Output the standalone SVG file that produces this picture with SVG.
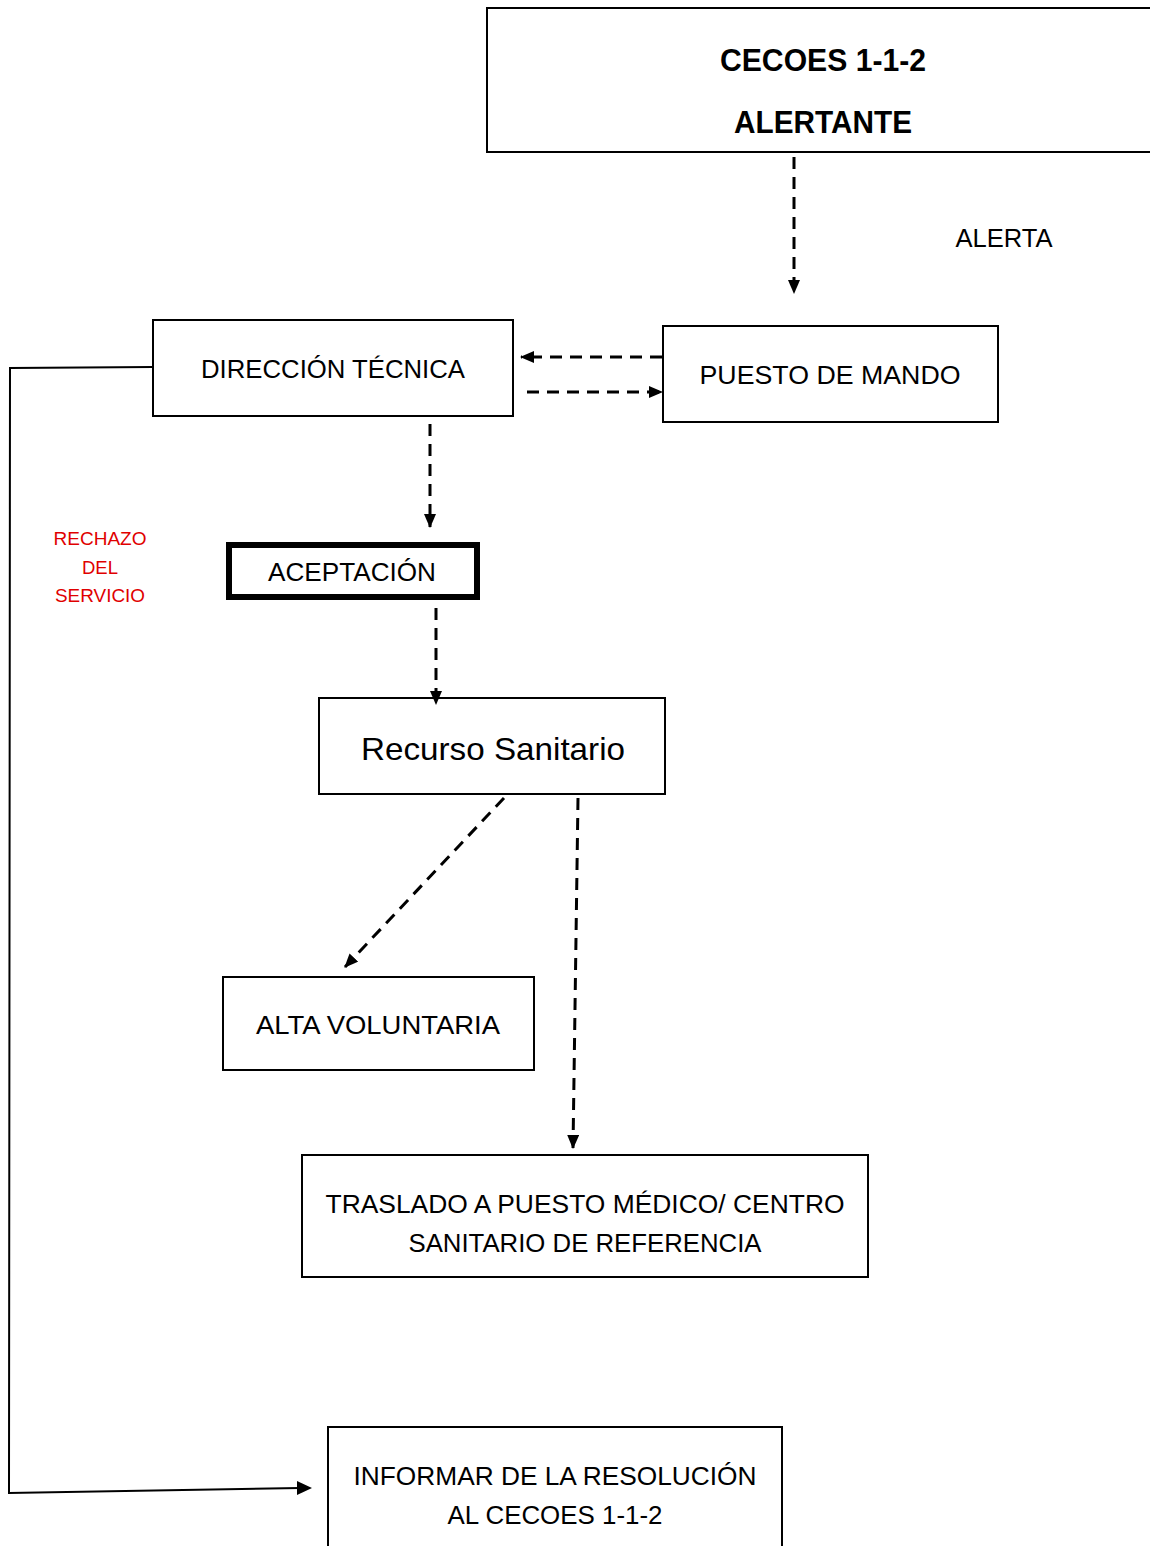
<svg xmlns="http://www.w3.org/2000/svg" width="1150" height="1546" viewBox="0 0 1150 1546">
<defs>
<marker id="ah" viewBox="0 0 14 12" refX="13" refY="6" markerWidth="14" markerHeight="12" markerUnits="userSpaceOnUse" orient="auto">
<path d="M0,0 L14,6 L0,12 Z" fill="#000"/>
</marker>
</defs>
<style>
.box{fill:#fff;stroke:#000;stroke-width:2}
.t{font-family:"Liberation Sans",Arial,sans-serif;font-size:26px;fill:#000;text-anchor:middle}
.b{font-weight:bold;font-size:32px}
.dash{fill:none;stroke:#000;stroke-width:3;stroke-dasharray:12 8;marker-end:url(#ah)}
.solid{fill:none;stroke:#000;stroke-width:2}
.red{font-family:"Liberation Sans",Arial,sans-serif;font-size:19px;fill:#e00000;text-anchor:middle}
</style>
<rect width="1150" height="1546" fill="#fff"/>
<g id="cecoes">
<path class="box" d="M1152,8 H487 V152 H1152"/>
<text class="t b" x="823" y="71" textLength="206" lengthAdjust="spacingAndGlyphs">CECOES 1-1-2</text>
<text class="t b" x="823" y="133" textLength="178" lengthAdjust="spacingAndGlyphs">ALERTANTE</text>
</g>
<g id="alerta-label">
<text class="t" x="1004" y="247" textLength="97" lengthAdjust="spacingAndGlyphs">ALERTA</text>
</g>
<g id="direccion">
<rect class="box" x="153" y="320" width="360" height="96"/>
<text class="t" x="333" y="378" textLength="264" lengthAdjust="spacingAndGlyphs">DIRECCIÓN TÉCNICA</text>
</g>
<g id="puesto">
<rect class="box" x="663" y="326" width="335" height="96"/>
<text class="t" x="830" y="384" textLength="261" lengthAdjust="spacingAndGlyphs">PUESTO DE MANDO</text>
</g>
<g id="aceptacion">
<rect x="229" y="545" width="248" height="52" fill="#fff" stroke="#000" stroke-width="6"/>
<text class="t" x="352" y="581" textLength="168" lengthAdjust="spacingAndGlyphs">ACEPTACIÓN</text>
</g>
<g id="rechazo">
<text class="red" x="100" y="545" textLength="93" lengthAdjust="spacingAndGlyphs">RECHAZO</text>
<text class="red" x="100" y="574" textLength="36" lengthAdjust="spacingAndGlyphs">DEL</text>
<text class="red" x="100" y="602" textLength="90" lengthAdjust="spacingAndGlyphs">SERVICIO</text>
</g>
<g id="recurso">
<rect class="box" x="319" y="698" width="346" height="96"/>
<text class="t" x="493" y="760" style="font-size:32px" textLength="264" lengthAdjust="spacingAndGlyphs">Recurso Sanitario</text>
</g>
<g id="alta">
<rect class="box" x="223" y="977" width="311" height="93"/>
<text class="t" x="378" y="1034" textLength="244" lengthAdjust="spacingAndGlyphs">ALTA VOLUNTARIA</text>
</g>
<g id="traslado">
<rect class="box" x="302" y="1155" width="566" height="122"/>
<text class="t" x="585" y="1213" textLength="519" lengthAdjust="spacingAndGlyphs">TRASLADO A PUESTO MÉDICO/ CENTRO</text>
<text class="t" x="585" y="1252" textLength="353" lengthAdjust="spacingAndGlyphs">SANITARIO DE REFERENCIA</text>
</g>
<g id="informar">
<path class="box" d="M328,1550 V1427 H782 V1550"/>
<text class="t" x="555" y="1485" textLength="403" lengthAdjust="spacingAndGlyphs">INFORMAR DE LA RESOLUCIÓN</text>
<text class="t" x="555" y="1524" textLength="215" lengthAdjust="spacingAndGlyphs">AL CECOES 1-1-2</text>
</g>
<g id="connectors">
<path class="dash" d="M794,157 V293"/>
<path class="dash" d="M662,357 H521"/>
<path class="dash" d="M527,392 H662"/>
<path class="dash" d="M430,424 V527"/>
<path class="dash" d="M436,608 V704"/>
<path class="dash" d="M504,798 L345,967"/>
<path class="dash" d="M578,798 L573,1148"/>
<path class="solid" d="M153,367 L10,368 L9,1493 L300,1488"/>
<path d="M297,1481 L312,1488 L297,1495 Z" fill="#000"/>
</g>
</svg>
